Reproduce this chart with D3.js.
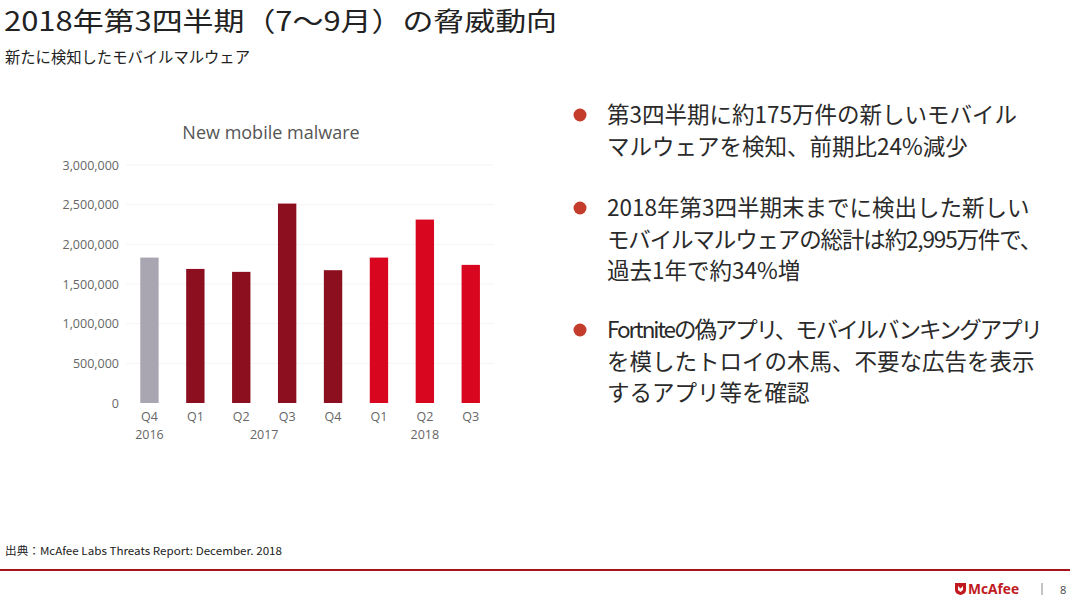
<!DOCTYPE html>
<html>
<head>
<meta charset="utf-8">
<script src="https://cdn.jsdelivr.net/npm/d3@7"></script>
<style>
  body { margin: 0; background: #fff; }
  svg { display: block; }
  text { font-family: "Noto Sans CJK JP", "Noto Sans", sans-serif; }
</style>
</head>
<body>
<div id="slide"></div>
<script>
// chart data
var quarters = ["Q4", "Q1", "Q2", "Q3", "Q4", "Q1", "Q2", "Q3"];
var years = ["2016", "2017", "2017", "2017", "2017", "2018", "2018", "2018"];
var values = [1833000, 1690000, 1653000, 2514000, 1674000, 1833000, 2312000, 1741000];
var yTicks = [0, 500000, 1000000, 1500000, 2000000, 2500000, 3000000];
var yearNames = ["2016", "2017", "2018"];
var yearColors = ["#a9a6b2", "#8b0f1e", "#d8071f"];

// slide text
var title = "2018年第3四半期（7〜9月）の脅威動向";
var subtitle = "新たに検知したモバイルマルウェア";
var chartTitle = "New mobile malware";
var bullets = [
    ["第3四半期に約175万件の新しいモバイル", "マルウェアを検知、前期比24%減少"],
    ["2018年第3四半期末までに検出した新しい", "モバイルマルウェアの総計は約2,995万件で、", "過去1年で約34%増"],
    ["Fortniteの偽アプリ、モバイルバンキングアプリ", "を模したトロイの木馬、不要な広告を表示", "するアプリ等を確認"]
];
var source = "出典：McAfee Labs Threats Report: December. 2018";
var pageNo = "8";

function init() {
    var w = 1070;
    var h = 601;

    var svg = d3.select("#slide")
                .append("svg")
                .attr("width", w)
                .attr("height", h);

    // slide heading
    svg.append("text")
        .attr("x", 4).attr("y", 31)
        .attr("font-size", 26.5)
        .attr("fill", "#222")
        .attr("textLength", 553)
        .attr("lengthAdjust", "spacingAndGlyphs")
        .text(title);

    svg.append("text")
        .attr("x", 5).attr("y", 63)
        .attr("font-size", 15.5)
        .attr("fill", "#222")
        .attr("textLength", 245)
        .attr("lengthAdjust", "spacingAndGlyphs")
        .text(subtitle);

    //---------------------------BAR CHART------------------------
    var x = d3.scaleBand()
                .domain(d3.range(values.length))
                .range([126.5, 493.7])
                .paddingInner(0.6)
                .paddingOuter(0.3);

    var y = d3.scaleLinear()
                .domain([0, 3000000])
                .range([403, 165]);

    var color = d3.scaleOrdinal()
                .domain(yearNames)
                .range(yearColors);

    svg.append("text")
        .attr("x", 271).attr("y", 139)
        .attr("text-anchor", "middle")
        .style("font-family", "'Open Sans', sans-serif")
        .attr("font-size", 18)
        .attr("fill", "#555")
        .text(chartTitle);

    // faint gridlines
    svg.append("g")
        .selectAll("line")
        .data(yTicks.slice(1))
        .enter()
        .append("line")
        .attr("x1", 126).attr("x2", 494)
        .attr("y1", function(d) { return y(d); })
        .attr("y2", function(d) { return y(d); })
        .attr("stroke", "#f5f5f5")
        .attr("stroke-width", 1);

    var yAxis = d3.axisLeft(y)
                .tickValues(yTicks)
                .tickFormat(d3.format(","))
                .tickSize(0)
                .tickPadding(0);

    var gy = svg.append("g")
                .attr("transform", "translate(119,0)")
                .call(yAxis);
    gy.select(".domain").remove();
    gy.selectAll("text")
        .style("font-family", "'Open Sans', sans-serif")
        .attr("font-size", 12.5)
        .attr("fill", "#666");

    svg.selectAll("rect.bar")
        .data(values)
        .enter()
        .append("rect")
        .attr("class", "bar")
        .attr("x", function(d, i) { return x(i); })
        .attr("width", x.bandwidth())
        .attr("y", function(d) { return y(d); })
        .attr("height", function(d) { return y(0) - y(d); })
        .attr("fill", function(d, i) { return color(years[i]); });

    // quarter labels
    svg.selectAll("text.q")
        .data(quarters)
        .enter()
        .append("text")
        .attr("class", "q")
        .attr("x", function(d, i) { return x(i) + x.bandwidth() / 2; })
        .attr("y", 421)
        .attr("text-anchor", "middle")
        .style("font-family", "'Open Sans', sans-serif")
        .attr("font-size", 12.5)
        .attr("fill", "#666")
        .text(function(d) { return d; });

    // year labels, centred under the quarters of each year
    svg.selectAll("text.yr")
        .data(yearNames)
        .enter()
        .append("text")
        .attr("class", "yr")
        .attr("x", function(d) {
            var idx = d3.range(years.length).filter(function(i) { return years[i] == d; });
            var a = x(idx[0]), b = x(idx[idx.length - 1]);
            return (a + b) / 2 + x.bandwidth() / 2;
        })
        .attr("y", 439)
        .attr("text-anchor", "middle")
        .style("font-family", "'Open Sans', sans-serif")
        .attr("font-size", 12.5)
        .attr("fill", "#666")
        .text(function(d) { return d; });

    //---------------------------BULLETS------------------------
    var bulletTop = [115, 208, 330];
    var lineGap = 31.5;
    var maxLine = 434; // text column runs from 607 to ~1041

    var items = svg.selectAll("g.item")
        .data(bullets)
        .enter()
        .append("g")
        .attr("class", "item")
        .attr("transform", function(d, i) { return "translate(0," + bulletTop[i] + ")"; });

    items.append("circle")
        .attr("cx", 580).attr("cy", 0)
        .attr("r", 6.5)
        .attr("fill", "#c43d2c");

    items.selectAll("text")
        .data(function(d) { return d; })
        .enter()
        .append("text")
        .attr("x", 607)
        .attr("y", function(d, i) { return i * lineGap + 8; })
        .attr("font-size", 22.5)
        .attr("fill", "#2a2a2a")
        .text(function(d) { return d; })
        .each(function(d) {
            //tighten lines that run past the right edge
            var len = this.getComputedTextLength();
            if (len > maxLine) {
                d3.select(this)
                    .attr("letter-spacing", (maxLine - len) / d.length);
            }
        });

    //---------------------------FOOTER------------------------
    svg.append("text")
        .attr("x", 5).attr("y", 555)
        .attr("font-size", 11)
        .attr("fill", "#222")
        .attr("textLength", 277)
        .attr("lengthAdjust", "spacingAndGlyphs")
        .text(source);

    svg.append("line")
        .attr("x1", 0).attr("x2", w)
        .attr("y1", 570).attr("y2", 570)
        .attr("stroke", "#a8141c")
        .attr("stroke-width", 2);

    // McAfee logo shield
    svg.append("path")
        .attr("d", "M955,583 L966,583 L966,590 Q966,594 960.5,595 Q955,594 955,590 Z M958,586 L958,590 L960.5,592 L963,590 L963,586 L960.5,588.5 Z")
        .attr("fill", "#c01a1f")
        .attr("fill-rule", "evenodd");

    svg.append("text")
        .attr("x", 968).attr("y", 594)
        .style("font-family", "'Open Sans', sans-serif")
        .attr("font-weight", "bold")
        .attr("font-size", 14)
        .attr("fill", "#c01a1f")
        .attr("textLength", 51)
        .attr("lengthAdjust", "spacingAndGlyphs")
        .text("McAfee");

    svg.append("line")
        .attr("x1", 1042).attr("x2", 1042)
        .attr("y1", 583).attr("y2", 595)
        .attr("stroke", "#888")
        .attr("stroke-width", 1);

    svg.append("text")
        .attr("x", 1060).attr("y", 594)
        .style("font-family", "'Open Sans', sans-serif")
        .attr("font-size", 11)
        .attr("fill", "#444")
        .text(pageNo);
}

window.onload = init;
</script>
</body>
</html>
